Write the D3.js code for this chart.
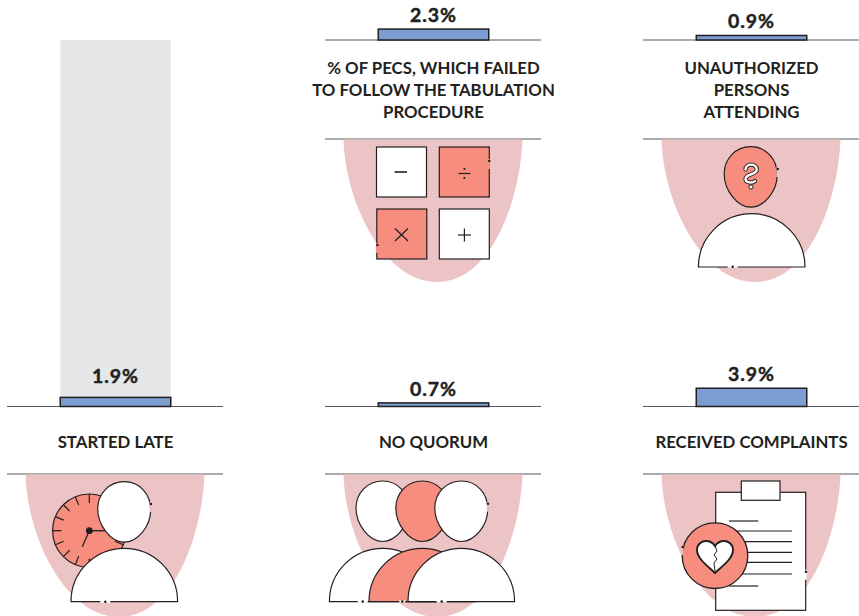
<!DOCTYPE html>
<html><head><meta charset="utf-8">
<script src="https://cdn.jsdelivr.net/npm/d3@7"></script>
<style>html,body{margin:0;padding:0;background:#fff}svg{display:block}text{font-family:Lato,sans-serif;font-weight:700;fill:#231f20;text-anchor:middle}</style>
</head><body><svg id="c" width="859" height="616"></svg>
<script>
const categories = [
  ["STARTED LATE"],
  ["% OF PECS, WHICH FAILED","TO FOLLOW THE TABULATION","PROCEDURE"],
  ["UNAUTHORIZED","PERSONS","ATTENDING"],
  ["NO QUORUM"],
  ["RECEIVED COMPLAINTS"]
];
const values = [1.9, 2.3, 0.9, 0.7, 3.9];
const backdropValues = [80, null, null, null, null];
const columnIndex = [0, 1, 2, 1, 2];
const rowIndex = [1, 0, 0, 1, 1];
const icons = ["late","math","unknown","quorum","complaint"];

const INK="#231f20", PINK="#edc4c5", SALMON="#f68d7e", BLUE="#7b9dd1", GRAY="#e6e7e8", RULE="#58585a";
const svg=d3.select("#c");
const xCol=d3.scalePoint().domain([0,1,2]).range([115,751]);
const yRow=d3.scalePoint().domain([0,1]).range([40,406.5]);
const h=d3.scaleLinear().domain([0,80]).range([0,366.5]);
const BAR=110.5, RULEW=216;

const rows=values.map((v,i)=>({v,i,cat:categories[i],back:backdropValues[i],cx:xCol(columnIndex[i]),base:yRow(rowIndex[i]),icon:icons[i]}));

const panel=svg.selectAll("g.panel").data(rows).join("g").attr("class","panel")
  .attr("transform",d=>`translate(${d.cx},${d.base})`);

panel.filter(d=>d.back!=null).append("rect").attr("x",-BAR/2+.5).attr("width",BAR)
  .attr("y",d=>-h(d.back)).attr("height",d=>h(d.back)).attr("fill",GRAY);

panel.append("line").attr("x1",-RULEW/2).attr("x2",RULEW/2).attr("stroke",RULE).attr("stroke-width",1.1);
const ruleGap=d=>d.cat.length>1?99:67.5;
panel.append("line").attr("x1",-RULEW/2).attr("x2",RULEW/2).attr("y1",ruleGap).attr("y2",ruleGap).attr("stroke",RULE).attr("stroke-width",1.2);

panel.append("rect").attr("x",-BAR/2+.5).attr("width",BAR).attr("y",d=>-h(d.v)-.4).attr("height",d=>h(d.v)+.4)
  .attr("fill",BLUE).attr("stroke",INK).attr("stroke-width",1.5);

panel.append("text").attr("x",.5).attr("y",d=>-h(d.v)-(d.back!=null?15:7.5))
  .attr("font-size",19.5).attr("letter-spacing",.9).attr("stroke",INK).attr("stroke-width",.45).text(d=>d.v.toFixed(1)+"%");

panel.each(function(d){
  const g=d3.select(this);
  const first=d.cat.length>1?33.5:41.5;
  d.cat.forEach((t,j)=>g.append("text").attr("y",first+j*22.2).attr("font-size",16.8).attr("x",.5).text(t));
});

const art=panel.append("g").attr("transform",d=>`translate(0,${ruleGap(d)})`);

art.append("path").attr("fill",PINK)
  .attr("d","M-89.5,0.6 C-88,62 -50,143 4,143 C58,143 87,62 89.5,0.6 Z");

function egg(g,cx,top,fill){
  const rx=26.5,ht=60.5;
  g.append("path").attr("fill",fill).attr("stroke",INK).attr("stroke-width",1.2)
   .attr("d",`M${cx},${top} C${cx+16},${top} ${cx+rx},${top+13} ${cx+rx},${top+28} C${cx+rx},${top+45} ${cx+13},${top+ht} ${cx},${top+ht} C${cx-13},${top+ht} ${cx-rx},${top+44} ${cx-rx},${top+27} C${cx-rx},${top+12} ${cx-15},${top} ${cx},${top} Z`);
}
function body(g,cx,top,fill){
  const r=53.3;
  g.append("path").attr("fill",fill).attr("stroke",INK).attr("stroke-width",1.2)
   .attr("d",d3.arc()({innerRadius:0,outerRadius:r,startAngle:-Math.PI/2,endAngle:Math.PI/2})).attr("transform",`translate(${cx},${top+r})`);
}
function nick(g,x,y,gapColor,vertical,len=5){
  g.append("line").attr("x1",vertical?x:x-len).attr("x2",vertical?x:x+len).attr("y1",vertical?y-len+3:y).attr("y2",vertical?y+len+3:y)
    .attr("stroke",gapColor).attr("stroke-width",2.2);
  g.append("circle").attr("cx",x+(vertical?.3:0)).attr("cy",y).attr("r",1.25).attr("fill",INK);
}
function sq(g,x,y,fill){g.append("rect").attr("x",x).attr("y",y).attr("width",50).attr("height",50).attr("fill",fill).attr("stroke",INK).attr("stroke-width",1.2);}
function seg(g,x1,y1,x2,y2,w=1.2){g.append("line").attr("x1",x1).attr("y1",y1).attr("x2",x2).attr("y2",y2).attr("stroke",INK).attr("stroke-width",w);}

const draw={
 late(g){
  const cx=-25.7,cy=56.7,r=36.7;
  g.append("circle").attr("cx",cx).attr("cy",cy).attr("r",r).attr("fill",SALMON).attr("stroke",INK).attr("stroke-width",1.2);
  d3.range(16).forEach(k=>{const a=k*Math.PI/8;seg(g,cx+Math.sin(a)*r,cy-Math.cos(a)*r,cx+Math.sin(a)*(r-9),cy-Math.cos(a)*(r-9));});
  seg(g,cx,cy,cx+18,cy,1.3); seg(g,cx,cy,cx-7,cy+16,1.3);
  g.append("circle").attr("cx",cx).attr("cy",cy).attr("r",3.4).attr("fill",INK);
  egg(g,9.2,7.7,"#fff"); nick(g,35.7,30,PINK,true);
  body(g,9.3,74.3,"#fff"); nick(g,-9.7,127.7,"#fff",false);
 },
 math(g){
  sq(g,-56.5,8,"#fff"); sq(g,6.3,8,SALMON); sq(g,-56.2,70,SALMON); sq(g,6.3,70,"#fff");
  seg(g,-38.5,33,-26,33,1.6);
  seg(g,25.5,34.5,37.5,34.5,1.2);
  g.append("circle").attr("cx",31.4).attr("cy",30).attr("r",1.1).attr("fill",INK);
  g.append("circle").attr("cx",31.4).attr("cy",39).attr("r",1.1).attr("fill",INK);
  seg(g,-38,89.5,-25,102); seg(g,-25,89.5,-38,102);
  seg(g,25,96,38,96); seg(g,31.4,89.5,31.4,102.5);
  nick(g,56,22,SALMON,true); nick(g,-56,106,SALMON,true);
 },
 unknown(g){
  egg(g,-0.3,7.7,SALMON); nick(g,26.5,30,PINK,true);
  const q="M-5.5,-6.5 C-5.5,-13 5.8,-13 5.8,-6.5 C5.8,-1 -5.5,-2.5 -5.5,3 C-5.5,7 1.5,7.5 4,5";
  const q0=g.append("g").attr("transform","translate(0,37)");
  q0.append("path").attr("d",q).attr("fill","none").attr("stroke",INK).attr("stroke-width",4.2).attr("stroke-linecap","round");
  q0.append("path").attr("d",q).attr("fill","none").attr("stroke","#fff").attr("stroke-width",2.4).attr("stroke-linecap","round");
  q0.append("circle").attr("cy",11).attr("r",2.1).attr("fill","#fff").attr("stroke",INK).attr("stroke-width",1);
  body(g,0.7,74.7,"#fff"); nick(g,-18.3,127.7,"#fff",false);
 },
 quorum(g){
  egg(g,-50.5,7,"#fff"); egg(g,-10.7,7,SALMON); egg(g,28.3,7,"#fff"); nick(g,54.7,29.7,PINK,true);
  body(g,-50.3,74.3,"#fff"); nick(g,-70.3,127.5,"#fff",false);
  body(g,-10.7,74.3,SALMON); nick(g,-30.7,127.5,"#fff",false,3);
  body(g,28.3,74.3,"#fff"); nick(g,8.7,127.5,"#fff",false);
 },
 complaint(g){
  g.append("rect").attr("x",-35.3).attr("y",18.3).attr("width",90).attr("height",118).attr("fill","#fff").attr("stroke",INK).attr("stroke-width",1.2);
  g.append("rect").attr("x",-9.7).attr("y",7).attr("width",38.7).attr("height",19.3).attr("fill","#fff").attr("stroke",INK).attr("stroke-width",1.2);
  [[47,-22,7.3],[57,-35,41],[67.7,-35,41],[78.3,-35,41],[88.3,-35,41],[100,-35,41],[112,-22,7.3]].forEach(l=>seg(g,l[1],l[0],l[2],l[0]));
  g.append("circle").attr("cx",-36).attr("cy",81.7).attr("r",32.8).attr("fill",SALMON).attr("stroke",INK).attr("stroke-width",1.3);
  nick(g,-68.7,73,PINK,true); nick(g,54.7,97.7,"#fff",true);
  const hg=g.append("g").attr("transform","translate(-36,82)");
  hg.append("path").attr("d","M0,17 C-6,11 -18,3 -18,-6 C-18,-12 -13,-15 -9,-15 C-5,-15 -2,-13 0,-10 C2,-13 5,-15 9,-15 C13,-15 18,-12 18,-6 C18,3 6,11 0,17 Z")
    .attr("fill","#fff").attr("stroke",INK).attr("stroke-width",1.9);
  hg.append("path").attr("d","M0,-10 L2,-5 L-1,-1 L2,3 L-1,7 L0,15").attr("fill","none").attr("stroke",INK).attr("stroke-width",1);
 }
};
art.each(function(d){draw[d.icon](d3.select(this));});
</script></body></html>
